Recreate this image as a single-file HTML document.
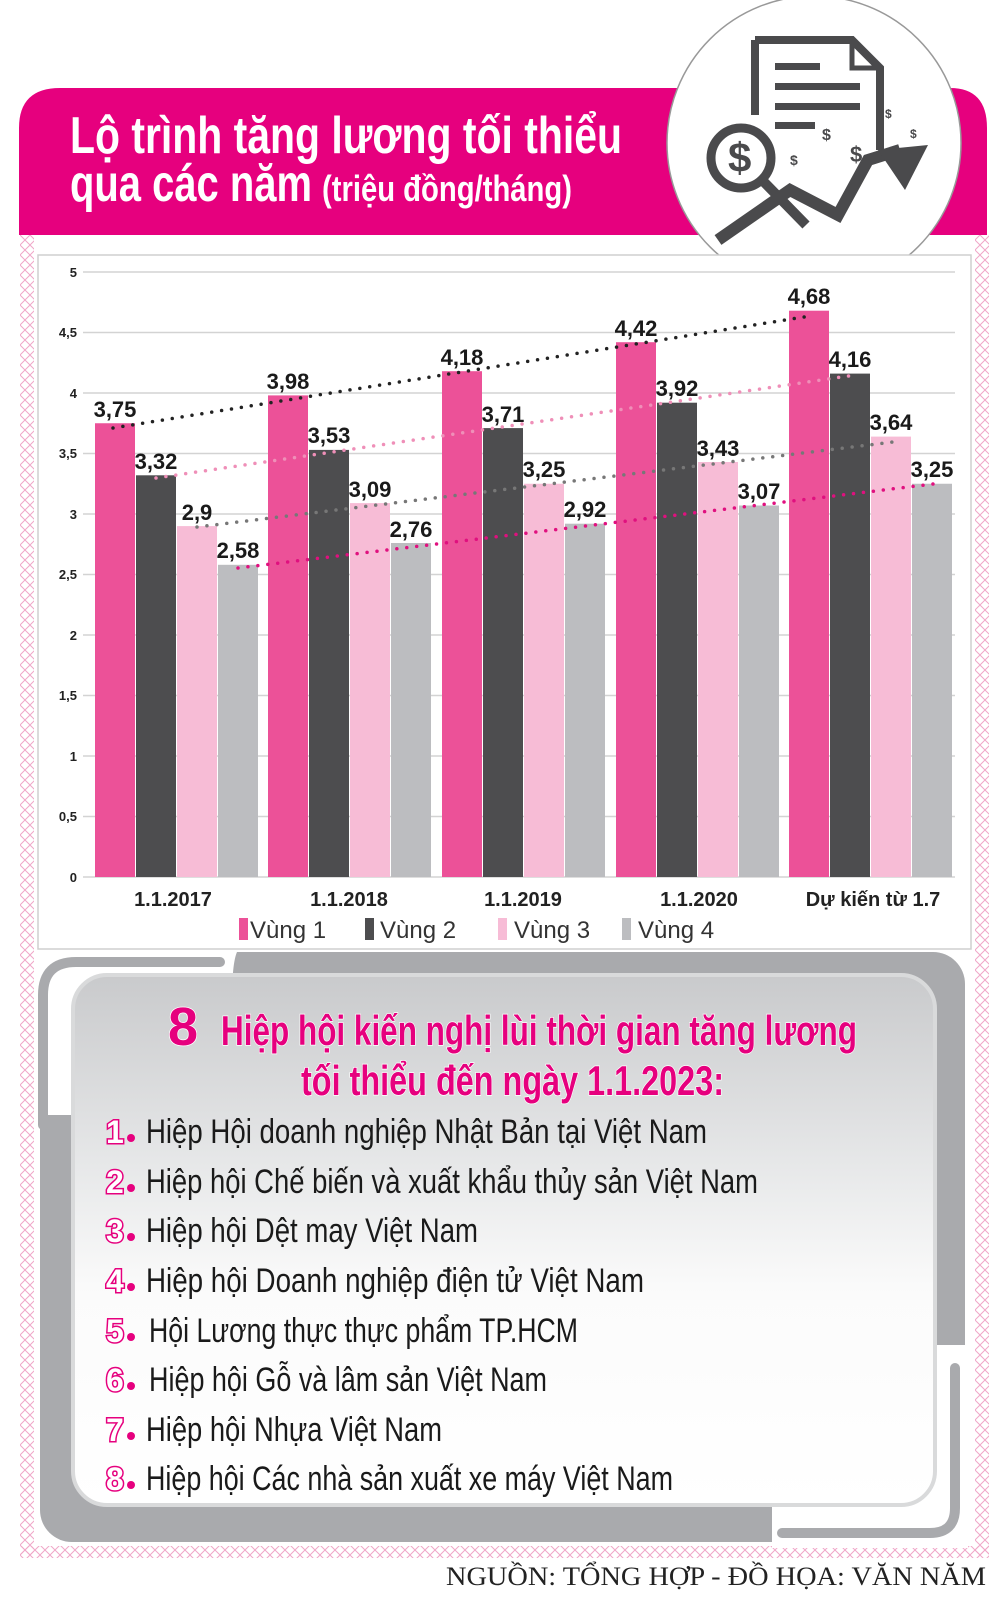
<!DOCTYPE html>
<html><head><meta charset="utf-8"><style>
html,body{margin:0;padding:0;background:#fff;}
svg{display:block;}
.t{font-family:"Liberation Sans Narrow","Liberation Sans",sans-serif;}
</style></head><body>
<svg width="1000" height="1610" viewBox="0 0 1000 1610" xmlns="http://www.w3.org/2000/svg">
<defs>
<pattern id="zz" width="10" height="10" patternUnits="userSpaceOnUse">
<path d="M5 0 L10 5 L5 10 L0 5 Z" fill="none" stroke="#f0a6c8" stroke-width="1"/>
</pattern>
<linearGradient id="pg" x1="0" y1="0" x2="0" y2="1">
<stop offset="0" stop-color="#c9cacc"/><stop offset="0.35" stop-color="#e6e7e8"/><stop offset="0.6" stop-color="#fbfbfb"/><stop offset="1" stop-color="#ffffff"/>
</linearGradient>
</defs>
<!-- pink zigzag border -->
<rect x="20" y="235" width="14" height="1320" fill="url(#zz)"/>
<rect x="975" y="235" width="14" height="1320" fill="url(#zz)"/>
<rect x="20" y="1546" width="969" height="12" fill="url(#zz)"/>

<!-- header -->
<path d="M19 235 L19 128 Q19 88 60 88 L950 88 Q987 88 987 128 L987 235 Z" fill="#e6007e"/>
<text class="t" x="70" y="153" font-size="52" font-weight="bold" fill="#fff" textLength="552" lengthAdjust="spacingAndGlyphs">Lộ trình tăng lương tối thiểu</text>
<text class="t" x="70" y="201" font-size="52" font-weight="bold" fill="#fff" textLength="242" lengthAdjust="spacingAndGlyphs">qua các năm</text>
<text class="t" x="322" y="201" font-size="36" font-weight="bold" fill="#fff" textLength="250" lengthAdjust="spacingAndGlyphs">(triệu đồng/tháng)</text>

<!-- circle icon -->
<circle cx="814" cy="143" r="147" fill="#fff" stroke="#999" stroke-width="1.5"/>
<g fill="#4a4a4c" stroke="#4a4a4c">
<path d="M755 40 L852 40 L880 68 L880 150" fill="none" stroke-width="8"/>
<path d="M755 40 L755 115" fill="none" stroke-width="8"/>
<path d="M852 40 L852 68 L880 68" fill="none" stroke-width="5"/>
<rect x="775" y="63" width="45" height="7" stroke="none"/>
<rect x="775" y="83" width="85" height="7" stroke="none"/>
<rect x="775" y="103" width="85" height="7" stroke="none"/>
<rect x="775" y="122" width="40" height="7" stroke="none"/>
<circle cx="741" cy="158" r="30" fill="#fff" stroke-width="9"/>
<path d="M762 180 L806 225" stroke-width="10"/>
<path d="M718 240 L790 190 L838 215 L868 160 L900 150" fill="none" stroke-width="12"/>
<path d="M878 150 L928 145 L905 190 Z" stroke="none"/>
</g>
<g font-family="Liberation Sans,sans-serif" font-weight="bold" fill="#4a4a4c">
<text x="728" y="172" font-size="42">$</text>
<text x="790" y="165" font-size="14">$</text>
<text x="822" y="140" font-size="16">$</text>
<text x="850" y="162" font-size="22">$</text>
<text x="885" y="118" font-size="12">$</text>
<text x="910" y="138" font-size="12">$</text>
</g>

<!-- chart box -->
<rect x="38" y="255" width="933" height="694" fill="#fff" stroke="#cfcfcf" stroke-width="1.5"/>
<g stroke="#d3d3d3" stroke-width="1.5">
<line x1="83" x2="955" y1="272" y2="272"/><line x1="83" x2="955" y1="332.5" y2="332.5"/>
<line x1="83" x2="955" y1="393" y2="393"/><line x1="83" x2="955" y1="453.5" y2="453.5"/>
<line x1="83" x2="955" y1="514" y2="514"/><line x1="83" x2="955" y1="574.5" y2="574.5"/>
<line x1="83" x2="955" y1="635" y2="635"/><line x1="83" x2="955" y1="695.5" y2="695.5"/>
<line x1="83" x2="955" y1="756" y2="756"/><line x1="83" x2="955" y1="816.5" y2="816.5"/>
<line x1="83" x2="955" y1="877" y2="877"/>
</g>
<g font-family="Liberation Sans,sans-serif" font-size="13" font-weight="bold" fill="#222" text-anchor="end">
<text x="77" y="277">5</text><text x="77" y="337">4,5</text><text x="77" y="398">4</text>
<text x="77" y="458">3,5</text><text x="77" y="519">3</text><text x="77" y="579">2,5</text>
<text x="77" y="640">2</text><text x="77" y="700">1,5</text><text x="77" y="761">1</text>
<text x="77" y="821">0,5</text><text x="77" y="882">0</text>
</g>
<!-- bars: y = 877 - 121*v -->
<g>
<rect x="95" y="423.25" width="40" height="453.75" fill="#ec5198"/>
<rect x="136" y="475.3" width="40" height="401.7" fill="#4d4d4f"/>
<rect x="177" y="526.1" width="40" height="350.9" fill="#f7bcd6"/>
<rect x="218" y="564.8" width="40" height="312.2" fill="#bcbdc0"/>
<rect x="268" y="395.4" width="40" height="481.6" fill="#ec5198"/>
<rect x="309" y="449.9" width="40" height="427.1" fill="#4d4d4f"/>
<rect x="350" y="503.1" width="40" height="373.9" fill="#f7bcd6"/>
<rect x="391" y="543.0" width="40" height="334" fill="#bcbdc0"/>
<rect x="442" y="371.2" width="40" height="505.8" fill="#ec5198"/>
<rect x="483" y="428.1" width="40" height="448.9" fill="#4d4d4f"/>
<rect x="524" y="483.75" width="40" height="393.25" fill="#f7bcd6"/>
<rect x="565" y="523.7" width="40" height="353.3" fill="#bcbdc0"/>
<rect x="616" y="342.2" width="40" height="534.8" fill="#ec5198"/>
<rect x="657" y="402.7" width="40" height="474.3" fill="#4d4d4f"/>
<rect x="698" y="462.0" width="40" height="415" fill="#f7bcd6"/>
<rect x="739" y="505.5" width="40" height="371.5" fill="#bcbdc0"/>
<rect x="789" y="310.7" width="40" height="566.3" fill="#ec5198"/>
<rect x="830" y="373.6" width="40" height="503.4" fill="#4d4d4f"/>
<rect x="871" y="436.6" width="40" height="440.4" fill="#f7bcd6"/>
<rect x="912" y="483.75" width="40" height="393.25" fill="#bcbdc0"/>
</g>
<!-- dotted trend lines -->
<g fill="none" stroke-width="3.5" stroke-linecap="round" stroke-dasharray="0 10">
<line x1="113" y1="428" x2="810" y2="316" stroke="#222"/>
<line x1="156" y1="478" x2="855" y2="375" stroke="#ef8fb8"/>
<line x1="197" y1="527" x2="893" y2="442" stroke="#777"/>
<line x1="238" y1="568" x2="933" y2="484" stroke="#e0107f"/>
</g>
<!-- value labels -->
<g class="t" font-size="22" font-weight="bold" fill="#1a1a1a" text-anchor="middle">
<text x="115" y="417">3,75</text><text x="156" y="469">3,32</text><text x="197" y="520">2,9</text><text x="238" y="558">2,58</text>
<text x="288" y="389">3,98</text><text x="329" y="443">3,53</text><text x="370" y="497">3,09</text><text x="411" y="537">2,76</text>
<text x="462" y="365">4,18</text><text x="503" y="422">3,71</text><text x="544" y="477">3,25</text><text x="585" y="517">2,92</text>
<text x="636" y="336">4,42</text><text x="677" y="396">3,92</text><text x="718" y="456">3,43</text><text x="759" y="499">3,07</text>
<text x="809" y="304">4,68</text><text x="850" y="367">4,16</text><text x="891" y="430">3,64</text><text x="932" y="477">3,25</text>
</g>
<g class="t" font-size="20" font-weight="bold" fill="#222" text-anchor="middle">
<text x="173" y="906">1.1.2017</text><text x="349" y="906">1.1.2018</text><text x="523" y="906">1.1.2019</text>
<text x="699" y="906">1.1.2020</text><text x="873" y="906">Dự kiến từ 1.7</text>
</g>
<g class="t" font-size="24" fill="#333">
<rect x="239" y="918" width="9" height="22" fill="#ec5198"/><text x="250" y="938">Vùng 1</text>
<rect x="365" y="918" width="9" height="22" fill="#4d4d4f"/><text x="380" y="938">Vùng 2</text>
<rect x="498" y="918" width="9" height="22" fill="#f7bcd6"/><text x="514" y="938">Vùng 3</text>
<rect x="622" y="918" width="9" height="22" fill="#bcbdc0"/><text x="638" y="938">Vùng 4</text>
</g>

<!-- lower panel -->
<rect x="40" y="952" width="925" height="590" rx="32" fill="#a9aaad"/>
<path d="M36 950 L238 950 Q232 960 232 1000 L232 1115 L36 1115 Z" fill="#fff"/>
<path d="M43 1125 L43 995 Q43 962 76 962 L220 962" fill="none" stroke="#a9aaad" stroke-width="10" stroke-linecap="round"/>
<path d="M772 1345 L968 1345 L968 1548 L772 1548 Z" fill="#fff"/>
<path d="M955 1368 L955 1508 Q955 1533 930 1533 L782 1533" fill="none" stroke="#a9aaad" stroke-width="10" stroke-linecap="round"/>
<rect x="73" y="975" width="862" height="530" rx="34" fill="url(#pg)" stroke="#d9dadb" stroke-width="4"/>

<g class="t" font-weight="bold" fill="#e6007e" stroke="#fff" stroke-width="1.5" paint-order="stroke">
<text x="168" y="1045" font-size="54" font-family="Liberation Sans,sans-serif">8</text>
<text x="221" y="1045" font-size="42" textLength="636" lengthAdjust="spacingAndGlyphs">Hiệp hội kiến nghị lùi thời gian tăng lương</text>
<text x="301" y="1095" font-size="42" textLength="423" lengthAdjust="spacingAndGlyphs">tối thiểu đến ngày 1.1.2023:</text>
</g>
<g class="t" font-size="34" fill="#1a1a1a">
<text x="146" y="1143" textLength="561" lengthAdjust="spacingAndGlyphs">Hiệp Hội doanh nghiệp Nhật Bản tại Việt Nam</text>
<text x="146" y="1193" textLength="612" lengthAdjust="spacingAndGlyphs">Hiệp hội Chế biến và xuất khẩu thủy sản Việt Nam</text>
<text x="146" y="1242" textLength="332" lengthAdjust="spacingAndGlyphs">Hiệp hội Dệt may Việt Nam</text>
<text x="146" y="1292" textLength="498" lengthAdjust="spacingAndGlyphs">Hiệp hội Doanh nghiệp điện tử Việt Nam</text>
<text x="149" y="1342" textLength="429" lengthAdjust="spacingAndGlyphs">Hội Lương thực thực phẩm TP.HCM</text>
<text x="149" y="1391" textLength="398" lengthAdjust="spacingAndGlyphs">Hiệp hội Gỗ và lâm sản Việt Nam</text>
<text x="146" y="1441" textLength="296" lengthAdjust="spacingAndGlyphs">Hiệp hội Nhựa Việt Nam</text>
<text x="146" y="1490" textLength="527" lengthAdjust="spacingAndGlyphs">Hiệp hội Các nhà sản xuất xe máy Việt Nam</text>
</g>
<g font-family="Liberation Sans,sans-serif" font-size="32" font-weight="bold" fill="#fff" stroke="#e6007e" stroke-width="3" paint-order="stroke">
<text x="106" y="1143">1</text><text x="106" y="1193">2</text><text x="106" y="1242">3</text><text x="106" y="1292">4</text>
<text x="106" y="1342">5</text><text x="106" y="1391">6</text><text x="106" y="1441">7</text><text x="106" y="1490">8</text>
</g>
<g fill="#e6007e">
<circle cx="131" cy="1138" r="4"/><circle cx="131" cy="1188" r="4"/><circle cx="131" cy="1237" r="4"/><circle cx="131" cy="1287" r="4"/>
<circle cx="131" cy="1337" r="4"/><circle cx="131" cy="1386" r="4"/><circle cx="131" cy="1436" r="4"/><circle cx="131" cy="1485" r="4"/>
</g>

<text x="986" y="1585" text-anchor="end" font-family="Liberation Serif,serif" font-size="26" fill="#222" textLength="540" lengthAdjust="spacingAndGlyphs">NGUỒN: TỔNG HỢP - ĐỒ HỌA: VĂN NĂM</text>
</svg>
</body></html>
